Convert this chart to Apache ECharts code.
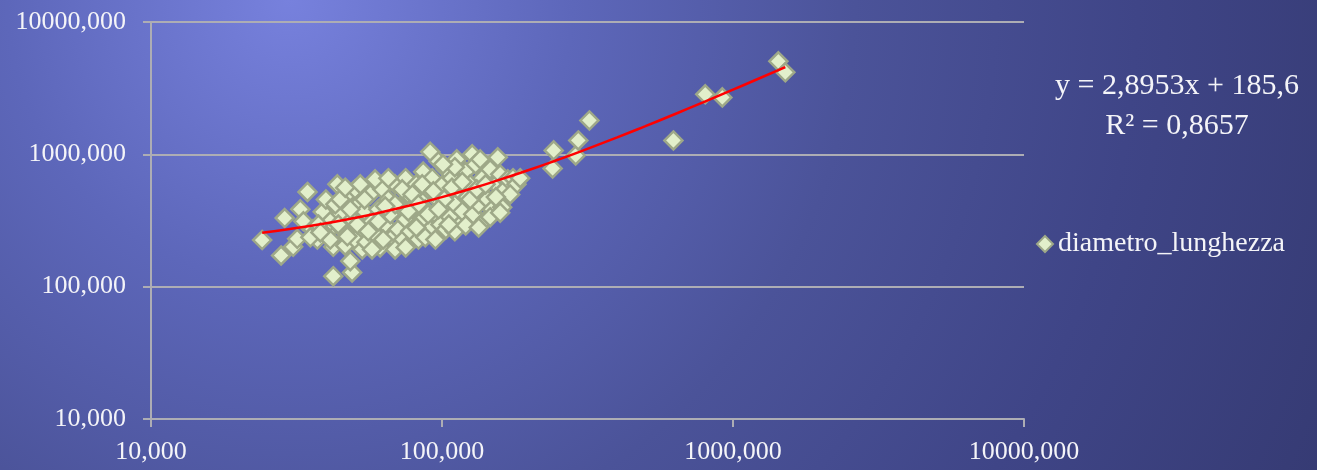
<!DOCTYPE html>
<html>
<head>
<meta charset="utf-8">
<script src="https://cdn.jsdelivr.net/npm/echarts@6/dist/echarts.min.js"></script>
<style>
  html, body { margin: 0; padding: 0; width: 1317px; height: 470px; overflow: hidden; }
  #chart { width: 1317px; height: 470px;
    background: radial-gradient(circle at 22% 0%, #7781dd 0%, #5d67ba 25%, #4b5399 50%, #3f4587 75%, #363b74 100%); }
</style>
</head>
<body>
<div id="chart"></div>
<script>
// ---- data ----
const seriesName = 'diametro_lunghezza';

const xValues = [
  24.1, 28.0, 28.8, 30.8, 31.8, 32.6, 34.5, 33.4, 35.9, 37.3,
  38.9, 39.9, 40.6, 42.3, 43.7, 42.3, 49.1, 48.4, 46.5, 44.7,
  45.4, 43.0, 41.3, 37.6, 35.3, 47.3, 50.3, 51.6, 49.1, 52.4,
  50.3, 53.2, 55.0, 54.2, 56.7, 57.5, 58.9, 60.4, 62.4, 61.3,
  63.8, 65.4, 66.4, 67.5, 69.0, 70.7, 71.8, 73.0, 75.0, 75.0,
  76.6, 77.8, 79.1, 81.6, 83.0, 84.2, 84.2, 86.2, 87.6, 89.6,
  91.1, 91.1, 92.6, 94.9, 96.5, 97.3, 98.7, 100.8, 103.1, 103.1,
  105.5, 106.7, 108.2, 110.7, 112.4, 113.3, 115.5, 117.4, 120.6, 122.5,
  125.0, 127.0, 128.0, 130.4, 133.7, 135.3, 137.5, 141.2, 143.3, 146.4,
  148.7, 153.2, 155.5, 156.2, 158.5, 161.0, 164.6, 168.4, 175.4, 180.3,
  185.6, 171.5, 153.2, 44.7, 46.5, 52.4, 58.9, 65.4, 54.2, 48.4,
  44.0, 47.3, 51.2, 55.8, 62.8, 69.0, 75.0, 81.6, 87.6, 94.9,
  103.1, 110.7, 120.6, 133.7, 146.4, 158.5, 69.0, 73.0, 79.1, 85.5,
  93.4, 101.8, 108.2, 117.4, 125.0, 131.7, 141.2, 110.7, 100.8, 135.3,
  83.0, 89.6, 97.3, 105.5, 76.6, 60.4, 63.8, 41.3, 38.2, 57.5,
  240, 242, 288, 294, 321, 624, 803, 919, 1432, 1513
];

const yValues = [
  225, 172, 330, 200, 230, 384, 520, 312, 271, 227,
  368, 456, 260, 200, 593, 120, 128, 156, 204, 352,
  271, 419, 312, 295, 236, 498, 544, 419, 322, 271,
  227, 191, 217, 370, 498, 312, 248, 384, 544, 198,
  295, 456, 352, 236, 593, 271, 405, 223, 660, 322,
  498, 262, 384, 593, 227, 456, 310, 740, 384, 544,
  271, 1045, 660, 352, 456, 885, 295, 593, 770, 398,
  498, 335, 660, 419, 917, 544, 295, 370, 740, 475,
  593, 1000, 352, 840, 419, 525, 660, 322, 456, 770,
  384, 593, 950, 456, 706, 398, 544, 647, 660, 593,
  660, 498, 475, 456, 560, 593, 647, 660, 456, 384,
  295, 240, 295, 262, 227, 191, 198, 280, 236, 227,
  271, 262, 290, 280, 335, 362, 419, 544, 498, 593,
  525, 456, 560, 620, 456, 544, 593, 800, 840, 917,
  419, 352, 384, 295, 370, 312, 405, 227, 257, 191,
  782, 1071, 981, 1274, 1805, 1274, 2840, 2694, 5045, 4165
];

// trend line y = 2,8953x + 185,6
const trendX = [24.1, 30, 40, 50, 60, 80, 100, 125, 150, 200, 250, 300, 400, 500, 600, 700, 800, 1000, 1200, 1513];
const trendY = [255.4, 272.5, 301.4, 330.4, 359.3, 417.2, 475.1, 547.5, 619.9, 764.7, 909.4, 1054.2, 1343.7, 1633.3, 1922.8, 2212.3, 2501.8, 3080.9, 3660.0, 4566.2];

const equationLines = ['y = 2,8953x + 185,6', 'R² = 0,8657'];

const xTicks = [10, 100, 1000, 10000];
const xTickLabels = ['10,000', '100,000', '1000,000', '10000,000'];
const yTicks = [10, 100, 1000, 10000];
const yTickLabels = ['10,000', '100,000', '1000,000', '10000,000'];

// ---- chart ----
const FONT = '"Liberation Serif", "DejaVu Serif", serif';
const scatterData = xValues.map((x, i) => [x, yValues[i]]);
const trendData = trendX.map((x, i) => [x, trendY[i]]);

function tickLabel(ticks, labels) {
  return function (v) {
    for (let i = 0; i < ticks.length; i++) {
      if (Math.abs(Math.log10(v) - Math.log10(ticks[i])) < 1e-6) return labels[i];
    }
    return '';
  };
}

const chart = echarts.init(document.getElementById('chart'), null, { renderer: 'canvas' });
const axisLineColor = '#adadb4';

chart.setOption({
  backgroundColor: 'transparent',
  animation: false,
  grid: { left: 151, right: 293, top: 22, bottom: 51, containLabel: false },
  xAxis: {
    type: 'log', logBase: 10, min: 10, max: 10000,
    axisLine: { show: true, lineStyle: { color: axisLineColor, width: 2 } },
    axisTick: { show: true, length: 8, lineStyle: { color: axisLineColor, width: 2 } },
    minorTick: { show: false },
    splitLine: { show: false },
    axisLabel: { color: '#f4f4f8', fontFamily: FONT, fontSize: 26, margin: 20,
      formatter: tickLabel(xTicks, xTickLabels) }
  },
  yAxis: {
    type: 'log', logBase: 10, min: 10, max: 10000,
    axisLine: { show: true, lineStyle: { color: axisLineColor, width: 2 } },
    axisTick: { show: true, length: 8, lineStyle: { color: axisLineColor, width: 2 } },
    splitLine: { show: true, lineStyle: { color: axisLineColor, width: 2 } },
    axisLabel: { color: '#f4f4f8', fontFamily: FONT, fontSize: 26, margin: 25,
      formatter: tickLabel(yTicks, yTickLabels) }
  },
  legend: {
    data: [seriesName],
    left: 1031, top: 225,
    icon: 'diamond',
    itemWidth: 16, itemHeight: 16, itemGap: 6,
    textStyle: { color: '#f4f4f8', fontFamily: FONT, fontSize: 28 }
  },
  graphic: [
    {
      type: 'text',
      x: 1177, y: 86,
      style: {
        text: equationLines[0], fill: '#f4f4f8', font: '30px ' + FONT,
        textAlign: 'center', textVerticalAlign: 'middle'
      }
    },
    {
      type: 'text',
      x: 1177, y: 126,
      style: {
        text: equationLines[1], fill: '#f4f4f8', font: '30px ' + FONT,
        textAlign: 'center', textVerticalAlign: 'middle'
      }
    }
  ],
  series: [
    {
      name: seriesName,
      type: 'scatter',
      symbol: 'diamond',
      symbolSize: 18,
      itemStyle: { color: '#e2efcb', borderColor: '#9ea888', borderWidth: 2.5, opacity: 1 },
      data: scatterData,
      z: 2
    },
    {
      name: 'trend',
      type: 'line',
      data: trendData,
      smooth: true,
      showSymbol: false,
      symbol: 'none',
      lineStyle: { color: '#ff0000', width: 2.5 },
      z: 3
    }
  ]
});
</script>
</body>
</html>
